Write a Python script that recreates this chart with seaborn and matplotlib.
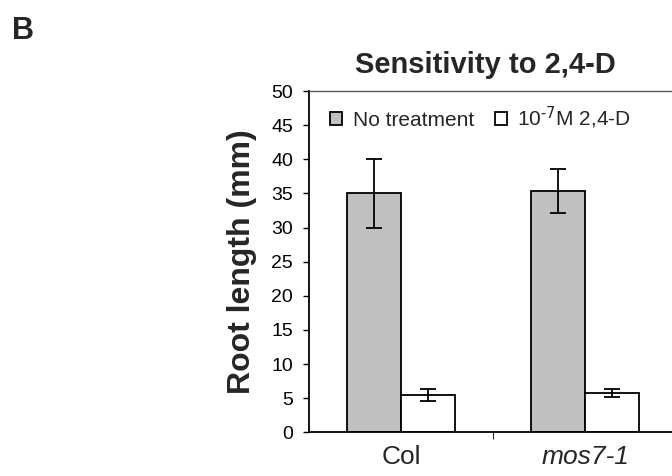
"""
Root length of Col and mos7-1 seedlings with and without 2,4-D (panel B).
"""
import numpy as np
import pandas as pd
import seaborn as sns
import matplotlib.pyplot as plt

# values (mm)
genotypes = ['Col', 'mos7-1']
treatments = ['No treatment', r'10$^{\text{-7}}$M 2,4-D']
root_no_treatment = [35.0, 35.3]
root_24d = [5.5, 5.8]
err_no_treatment = [5.1, 3.2]
err_24d = [0.9, 0.6]
y_ticks = [0, 5, 10, 15, 20, 25, 30, 35, 40, 45, 50]

sns.set_theme(style='white')
plt.rcParams['font.family'] = ['Liberation Sans', 'DejaVu Sans']
plt.rcParams['mathtext.default'] = 'regular'

df = pd.DataFrame({
    'genotype': genotypes * 2,
    'treatment': [treatments[0]] * 2 + [treatments[1]] * 2,
    'length': root_no_treatment + root_24d,
    'err': err_no_treatment + err_24d,
})

fig = plt.figure(figsize=(6.72, 4.76), dpi=100)
ax = fig.add_axes([309 / 672, 1 - 432.3 / 476, 368 / 672, 341.3 / 476])

sns.barplot(data=df, x='genotype', y='length', hue='treatment',
            palette=['#c0c0c0', 'white'], edgecolor='black', linewidth=1.3,
            width=0.587, errorbar=None, ax=ax)

# error bars at the bar centres
for cont, (_, grp) in zip(ax.containers, df.groupby('treatment', sort=False)):
    xs = [p.get_x() + p.get_width() / 2 for p in cont]
    ax.errorbar(xs, grp['length'].values, yerr=grp['err'].values, fmt='none',
                ecolor='black', elinewidth=1.3, capsize=6, capthick=1.3, zorder=5)

ax.set_xlim(-0.5, 1.5)
ax.set_ylim(0, 50)
ax.set_yticks(y_ticks)
ax.tick_params(axis='y', labelsize=14, length=4.5, width=1, direction='out',
               left=True, pad=7, colors='black')
ax.set_xticks([0, 1])
ax.set_xticklabels(genotypes, fontsize=19)
ax.get_xticklabels()[1].set_style('italic')
ax.tick_params(axis='x', length=0, pad=9)
ax.set_xticks([0.5], minor=True)
ax.tick_params(axis='x', which='minor', length=5, width=0.8, direction='out', bottom=True)

ax.set_xlabel('')
ax.set_ylabel('Root length (mm)', fontsize=23, fontweight='bold', labelpad=10)

for side in ['left', 'bottom', 'top']:
    ax.spines[side].set_visible(True)
    ax.spines[side].set_color('black')
    ax.spines[side].set_linewidth(1.3)
ax.spines['top'].set_color('#555555')
ax.spines['top'].set_linewidth(1.0)

handles, labels = ax.get_legend_handles_labels()
ax.legend(handles, labels, loc='center left', bbox_to_anchor=(0.058, 0.921),
          ncol=2, frameon=False, fontsize=15, handlelength=0.58, handleheight=0.58,
          handletextpad=0.5, columnspacing=1.0, borderpad=0, borderaxespad=0)

fig.text(485 / 672, 1 - 73 / 476, 'Sensitivity to 2,4-D', ha='center', va='baseline',
         fontsize=21, fontweight='bold')
fig.text(12 / 672, 1 - 39 / 476, 'B', ha='left', va='baseline',
         fontsize=22, fontweight='bold')

fig.savefig('out.png', dpi=100)
